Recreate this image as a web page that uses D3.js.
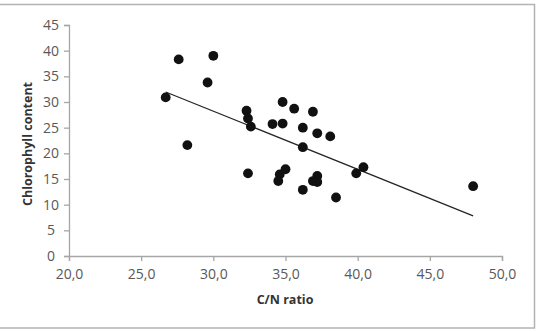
<!DOCTYPE html>
<html>
<head>
<meta charset="utf-8">
<script src="https://cdn.jsdelivr.net/npm/d3@7"></script>
<style>
  body { margin: 0; background: #fff; }
  svg text { font-family: "Open Sans", "Liberation Sans", sans-serif; }
</style>
</head>
<body>
<svg width="538" height="332"></svg>
<script>
  // values
  const cnRatio = [26.7, 27.6, 30.0, 29.6, 28.2, 32.3, 32.4, 32.6, 32.4,
      34.8, 35.6, 36.9, 34.1, 34.8, 36.2, 37.2, 38.1, 36.2, 40.4, 39.9,
      35.0, 34.6, 34.5, 37.2, 36.9, 37.2, 36.2, 38.5, 48.0];
  const chlorophyll = [30.9, 38.3, 39.0, 33.8, 21.6, 28.3, 26.8, 25.2, 16.1,
      30.0, 28.7, 28.1, 25.7, 25.8, 25.0, 23.9, 23.3, 21.2, 17.3, 16.1,
      16.9, 15.9, 14.6, 15.6, 14.6, 14.4, 12.9, 11.4, 13.6];
  const xTicks = [20, 25, 30, 35, 40, 45, 50];
  const yTicks = [0, 5, 10, 15, 20, 25, 30, 35, 40, 45];

  const points = cnRatio.map((x, i) => ({x: x, y: chlorophyll[i]}));

  const svg = d3.select("svg");
  const margin = {left: 69, right: 36, top: 25, bottom: 76};
  const width = +svg.attr("width"), height = +svg.attr("height");

  const x = d3.scaleLinear().domain([20, 50]).range([margin.left, width - margin.right]);
  const y = d3.scaleLinear().domain([0, 45]).range([height - margin.bottom, margin.top]);

  const fmt = d => d.toFixed(1).replace(".", ",");

  // outer chart frame
  svg.append("rect")
      .attr("x", -2).attr("y", 4.5)
      .attr("width", 536.5).attr("height", 323.5)
      .attr("fill", "none")
      .attr("stroke", "#b3b3b3")
      .attr("stroke-width", 1.5);

  const axisColor = "#a6a6a6";
  const labelColor = "#595959";

  // x axis
  const gx = svg.append("g")
      .attr("transform", `translate(0,${y(0)})`)
      .call(d3.axisBottom(x).tickValues(xTicks).tickFormat(fmt).tickSize(5).tickPadding(8));

  // y axis
  const gy = svg.append("g")
      .attr("transform", `translate(${x(20)},0)`)
      .call(d3.axisLeft(y).tickValues(yTicks).tickSize(5).tickPadding(11));

  [gx, gy].forEach(g => {
    g.select(".domain").attr("stroke", axisColor).attr("stroke-width", 1.3);
    g.selectAll(".tick line").attr("stroke", axisColor).attr("stroke-width", 1.3);
    g.selectAll(".tick text")
        .attr("fill", labelColor)
        .style("font-size", "14px");
  });
  gy.selectAll(".tick text").attr("text-anchor", "middle").attr("x", -18);

  // linear trend line over the x range of the data
  const mx = d3.mean(cnRatio), my = d3.mean(chlorophyll);
  const slope = d3.sum(points, p => (p.x - mx) * (p.y - my)) / d3.sum(points, p => (p.x - mx) ** 2);
  const intercept = my - slope * mx;
  const ext = d3.extent(cnRatio);

  svg.append("line")
      .attr("x1", x(ext[0])).attr("y1", y(intercept + slope * ext[0]))
      .attr("x2", x(ext[1])).attr("y2", y(intercept + slope * ext[1]))
      .attr("stroke", "#262626")
      .attr("stroke-width", 1.3);

  svg.append("g")
      .selectAll("circle")
      .data(points)
      .join("circle")
      .attr("cx", d => x(d.x))
      .attr("cy", d => y(d.y))
      .attr("r", 4.9)
      .attr("fill", "#111");

  // axis titles
  svg.append("text")
      .attr("x", 285).attr("y", 304)
      .attr("text-anchor", "middle")
      .attr("fill", "#333")
      .style("font-size", "12.5px")
      .style("font-weight", "bold")
      .text("C/N ratio");

  svg.append("text")
      .attr("transform", "translate(32,144) rotate(-90)")
      .attr("text-anchor", "middle")
      .attr("fill", "#333")
      .style("font-size", "12.5px")
      .style("font-weight", "bold")
      .text("Chlorophyll content");
</script>
</body>
</html>
